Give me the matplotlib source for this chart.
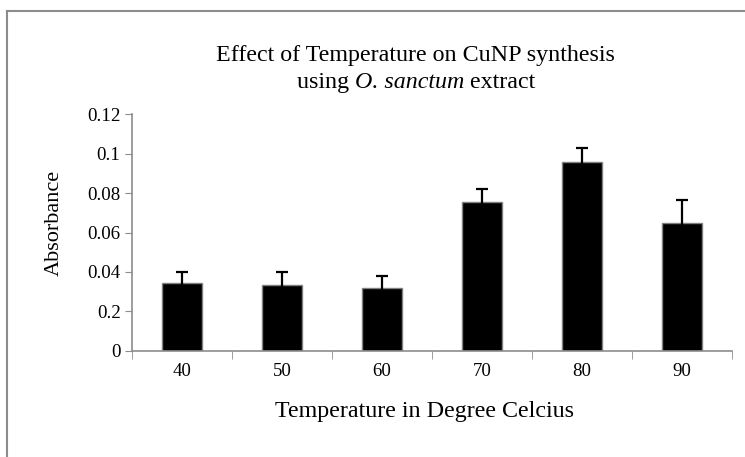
import matplotlib.pyplot as plt
from matplotlib.lines import Line2D

plt.rcParams["font.family"] = ["Liberation Serif", "DejaVu Serif"]

temperatures = ["40", "50", "60", "70", "80", "90"]
absorbance = [0.0345, 0.0334, 0.0316, 0.0757, 0.0960, 0.0650]
errors = [0.0055, 0.0065, 0.0061, 0.0065, 0.0068, 0.0115]
ytick_values = [0, 0.02, 0.04, 0.06, 0.08, 0.1, 0.12]
ytick_labels = ["0", "0.2", "0.04", "0.06", "0.08", "0.1", "0.12"]

AXIS_GRAY = "#8c8c8c"
W, H = 745, 457

fig = plt.figure(figsize=(7.45, 4.57), dpi=100)
ax = fig.add_axes([131.7 / W, 1 - 350.7 / H, 600.5 / W, 236.3 / H])

x = list(range(len(temperatures)))
ax.bar(x, absorbance, width=0.4, color="black", edgecolor="#808080", linewidth=1.0,
       yerr=errors, error_kw={"ecolor": "black", "elinewidth": 1.6,
                              "capsize": 4, "capthick": 1.6})

ax.set_xlim(-0.5, len(temperatures) - 0.5)
ax.set_ylim(0, 0.12)
ax.set_yticks(ytick_values)
ax.set_yticklabels(ytick_labels)
ax.set_xticks(x)
ax.set_xticklabels(temperatures)
ax.set_xticks([i - 0.5 for i in range(len(temperatures) + 1)], minor=True)
ax.tick_params(axis="x", which="major", length=0, pad=9, labelsize=13.6)
ax.tick_params(axis="x", which="minor", length=6, color=AXIS_GRAY, direction="out")
ax.tick_params(axis="y", length=5, color=AXIS_GRAY, pad=3, labelsize=13.6)

for side in ["top", "right"]:
    ax.spines[side].set_visible(False)
for side in ["left", "bottom"]:
    ax.spines[side].set_color(AXIS_GRAY)
    ax.spines[side].set_linewidth(1.2)

ax.set_ylabel("Absorbance", fontsize=16)
ax.yaxis.set_label_coords((54 - 131.7) / 600.5, (350.7 - 223.4) / 236.3)
ax.yaxis.label.set_va("center")

fig.text(424.5 / W, 1 - 416.7 / H, "Temperature in Degree Celcius",
         fontsize=17.3, ha="center", va="baseline")

fig.text(415.4 / W, 1 - 61 / H, "Effect of Temperature on CuNP synthesis",
         fontsize=17.3, ha="center", va="baseline")

# second title line: mixed upright / italic pieces, centred as a whole
parts = [("using ", "normal"), ("O. sanctum", "italic"), (" extract", "normal")]
pieces = [fig.text(0, 1 - 88.3 / H, s, fontsize=17.3, fontstyle=st,
                   ha="left", va="baseline") for s, st in parts]
fig.canvas.draw()
renderer = fig.canvas.get_renderer()
widths = [p.get_window_extent(renderer).width for p in pieces]
left = 416 - sum(widths) / 2
for p, w in zip(pieces, widths):
    p.set_x(left / W)
    left += w

# outer frame (only top and left edges are visible in the original)
fig.add_artist(Line2D([7 / W, 1.0], [1 - 11 / H, 1 - 11 / H],
                      color=AXIS_GRAY, linewidth=1.5, transform=fig.transFigure))
fig.add_artist(Line2D([7 / W, 7 / W], [0.0, 1 - 11 / H],
                      color=AXIS_GRAY, linewidth=1.5, transform=fig.transFigure))

fig.savefig("out.png", dpi=100)
